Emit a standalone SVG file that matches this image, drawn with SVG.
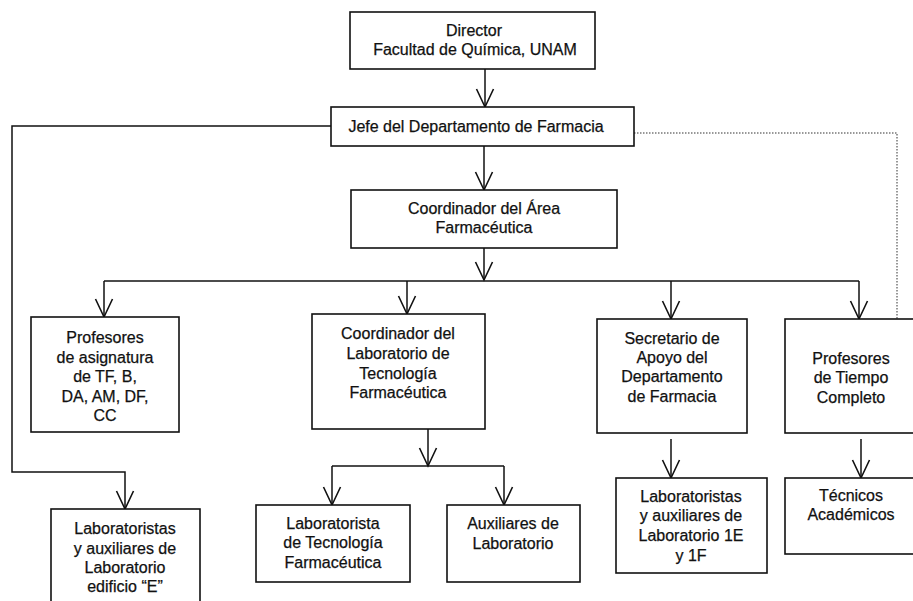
<svg xmlns="http://www.w3.org/2000/svg" width="913" height="601" viewBox="0 0 913 601">
<style>
.box{fill:#fff;stroke:#111;stroke-width:1.6}
.t{font-family:"Liberation Sans",Arial,sans-serif;font-size:16px;fill:#111;stroke:#111;stroke-width:0.25;text-anchor:middle}
.c{fill:none;stroke:#111;stroke-width:1.5}
.d{fill:none;stroke:#777;stroke-width:1.5;stroke-dasharray:1.5 1.5}
</style>
<defs>
<marker id="a" markerUnits="userSpaceOnUse" markerWidth="22" markerHeight="22" viewBox="0 0 22 22" refX="19" refY="11" orient="auto">
<path d="M1,2.5 L19,11 L1,19.5" fill="none" stroke="#111" stroke-width="1.6"/>
</marker>
</defs>
<rect width="913" height="601" fill="#fff"/>
<g id="connectors">
<line class="c" x1="485" y1="69" x2="485" y2="107" marker-end="url(#a)"/>
<line class="c" x1="484" y1="146" x2="484" y2="190" marker-end="url(#a)"/>
<line class="c" x1="484" y1="240" x2="484" y2="280" marker-end="url(#a)"/>
<polyline class="c" points="104,281 859,281"/>
<line class="c" x1="104" y1="281" x2="104" y2="317" marker-end="url(#a)"/>
<line class="c" x1="407" y1="281" x2="407" y2="314" marker-end="url(#a)"/>
<line class="c" x1="671" y1="281" x2="671" y2="319" marker-end="url(#a)"/>
<line class="c" x1="859" y1="281" x2="859" y2="319" marker-end="url(#a)"/>
<polyline class="c" points="331,126 12,126 12,472 125,472 125,509" marker-end="url(#a)"/>
<polyline class="d" points="634,133 897,133 897,323"/>
<line class="c" x1="428" y1="429" x2="428" y2="466" marker-end="url(#a)"/>
<polyline class="c" points="332,466 504,466"/>
<line class="c" x1="332" y1="466" x2="332" y2="505" marker-end="url(#a)"/>
<line class="c" x1="504" y1="466" x2="504" y2="505" marker-end="url(#a)"/>
<line class="c" x1="671" y1="439" x2="671" y2="478" marker-end="url(#a)"/>
<line class="c" x1="861" y1="439" x2="861" y2="478" marker-end="url(#a)"/>
</g>
<g id="director">
<rect class="box" x="350" y="12" width="245" height="57"/>
<text class="t" x="474" y="36">Director</text>
<text class="t" x="475" y="55">Facultad de Química, UNAM</text>
</g>
<g id="jefe">
<rect class="box" x="331" y="107" width="303" height="39"/>
<text class="t" x="476" y="132">Jefe del Departamento de Farmacia</text>
</g>
<g id="coord-area">
<rect class="box" x="351" y="190" width="266" height="58"/>
<text class="t" x="484" y="214">Coordinador del Área</text>
<text class="t" x="484" y="233">Farmacéutica</text>
</g>
<g id="prof-asignatura">
<rect class="box" x="31" y="317" width="148" height="115"/>
<text class="t" x="105" y="343">Profesores</text>
<text class="t" x="105" y="363">de asignatura</text>
<text class="t" x="105" y="382">de TF, B,</text>
<text class="t" x="105" y="402">DA, AM, DF,</text>
<text class="t" x="105" y="421">CC</text>
</g>
<g id="coord-lab">
<rect class="box" x="312" y="314" width="173" height="115"/>
<text class="t" x="398" y="339">Coordinador del</text>
<text class="t" x="398" y="359">Laboratorio de</text>
<text class="t" x="398" y="379">Tecnología</text>
<text class="t" x="398" y="398">Farmacéutica</text>
</g>
<g id="secretario">
<rect class="box" x="597" y="319" width="150" height="114"/>
<text class="t" x="672" y="344">Secretario de</text>
<text class="t" x="672" y="363">Apoyo del</text>
<text class="t" x="672" y="382">Departamento</text>
<text class="t" x="672" y="402">de Farmacia</text>
</g>
<g id="prof-tiempo">
<rect class="box" x="785" y="319" width="132" height="114"/>
<text class="t" x="851" y="364">Profesores</text>
<text class="t" x="851" y="383">de Tiempo</text>
<text class="t" x="851" y="403">Completo</text>
</g>
<g id="lab-edificio-e">
<rect class="box" x="51" y="509" width="149" height="100"/>
<text class="t" x="125" y="534">Laboratoristas</text>
<text class="t" x="125" y="554">y auxiliares de</text>
<text class="t" x="125" y="573">Laboratorio</text>
<text class="t" x="125" y="592">edificio “E”</text>
</g>
<g id="lab-tecnologia">
<rect class="box" x="256" y="505" width="154" height="77"/>
<text class="t" x="333" y="529">Laboratorista</text>
<text class="t" x="333" y="548">de Tecnología</text>
<text class="t" x="333" y="568">Farmacéutica</text>
</g>
<g id="auxiliares">
<rect class="box" x="447" y="505" width="133" height="77"/>
<text class="t" x="513" y="529">Auxiliares de</text>
<text class="t" x="513" y="549">Laboratorio</text>
</g>
<g id="lab-1e-1f">
<rect class="box" x="616" y="478" width="151" height="95"/>
<text class="t" x="691" y="502">Laboratoristas</text>
<text class="t" x="691" y="521">y auxiliares de</text>
<text class="t" x="691" y="541">Laboratorio 1E</text>
<text class="t" x="691" y="561">y 1F</text>
</g>
<g id="tecnicos">
<rect class="box" x="785" y="478" width="132" height="76"/>
<text class="t" x="851" y="501">Técnicos</text>
<text class="t" x="851" y="520">Académicos</text>
</g>
</svg>
